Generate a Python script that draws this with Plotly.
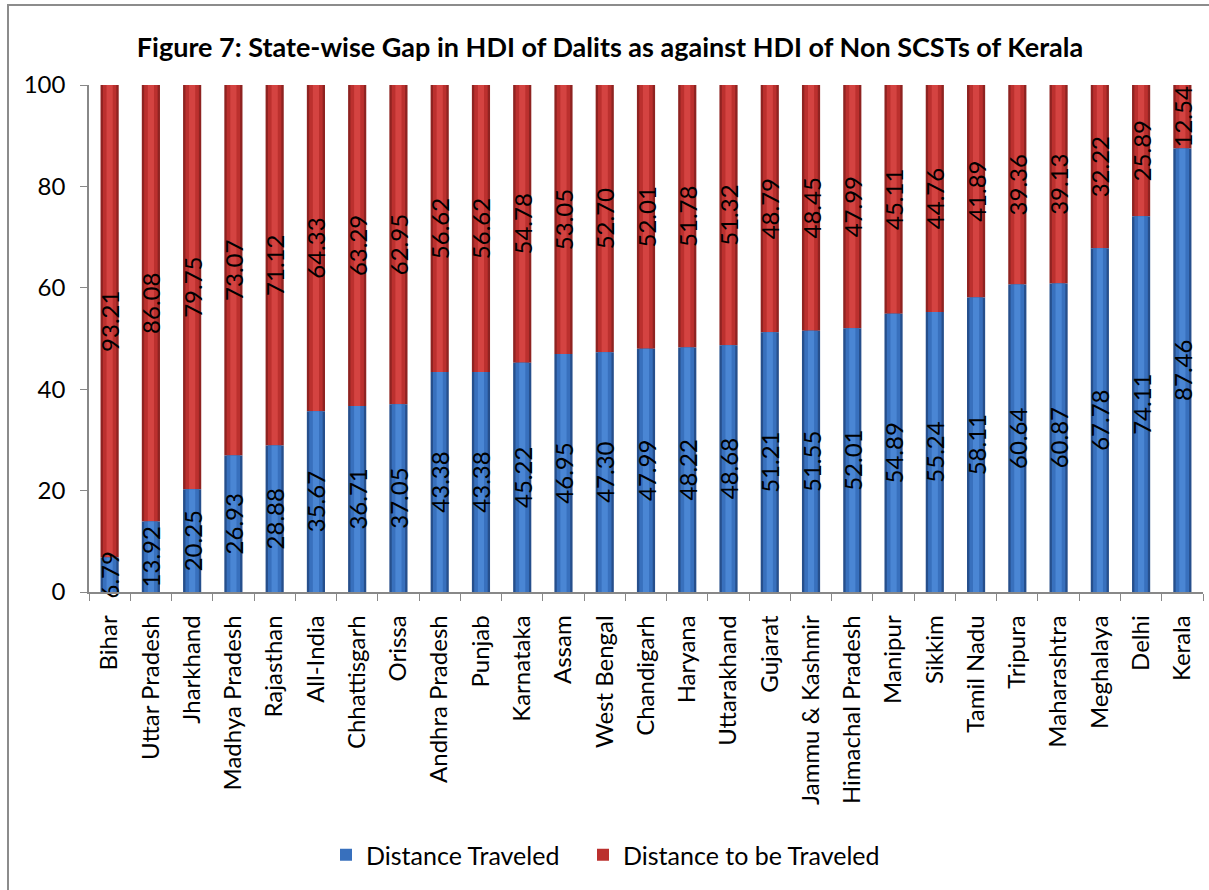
import plotly.graph_objects as go

states = ["Bihar", "Uttar Pradesh", "Jharkhand", "Madhya Pradesh", "Rajasthan",
          "All-India", "Chhattisgarh", "Orissa", "Andhra Pradesh", "Punjab",
          "Karnataka", "Assam", "West Bengal", "Chandigarh", "Haryana",
          "Uttarakhand", "Gujarat", "Jammu & Kashmir", "Himachal Pradesh",
          "Manipur", "Sikkim", "Tamil Nadu", "Tripura", "Maharashtra",
          "Meghalaya", "Delhi", "Kerala"]
traveled = [6.79, 13.92, 20.25, 26.93, 28.88, 35.67, 36.71, 37.05, 43.38, 43.38,
            45.22, 46.95, 47.30, 47.99, 48.22, 48.68, 51.21, 51.55, 52.01, 54.89,
            55.24, 58.11, 60.64, 60.87, 67.78, 74.11, 87.46]
to_travel = [93.21, 86.08, 79.75, 73.07, 71.12, 64.33, 63.29, 62.95, 56.62, 56.62,
             54.78, 53.05, 52.70, 52.01, 51.78, 51.32, 48.79, 48.45, 47.99, 45.11,
             44.76, 41.89, 39.36, 39.13, 32.22, 25.89, 12.54]

FONT = "Lato, Carlito, Calibri, sans-serif"
BAR_W = 0.44

# cylinder-like shading: dark outer bar, mid body, light centre stripe
blue_shades = ["#264f8c", "#3870bd", "#4a86d4"]
red_shades = ["#8f2321", "#bb302e", "#d44341"]
widths = [BAR_W, BAR_W * 0.74, BAR_W * 0.34]

fig = go.Figure()

def add_series(name, values, base, shades, legend_id):
    for i, (col, w) in enumerate(zip(shades, widths)):
        last = i == len(shades) - 1
        fig.add_trace(go.Bar(
            x=states, y=values, base=base, width=w,
            marker=dict(color=col, line=dict(width=0)),
            name=name, legend=legend_id, showlegend=(i == 1),
            text=[f"{v:.2f}" for v in values] if last else None,
            textposition="inside" if last else "none",
            insidetextanchor="middle", textangle=-90,
            constraintext="none", cliponaxis=False,
            textfont=dict(family=FONT, size=24, color="black"),
            hoverinfo="x+y",
        ))

# upper segment first so the lower segment's labels stay on top
add_series("Distance to be Traveled", to_travel, traveled, red_shades, "legend2")
add_series("Distance Traveled", traveled, [0] * len(states), blue_shades, "legend")

L, R, T, B = 89, 6, 85, 298
W, H = 1209, 890
pw, ph = W - L - R, H - T - B

legend_style = dict(
    orientation="h", xanchor="left", yanchor="middle",
    y=(H - B - 855) / ph, bgcolor="rgba(0,0,0,0)",
    font=dict(family=FONT, size=25, color="black"),
)

fig.update_layout(
    width=W, height=H,
    margin=dict(l=L, r=R, t=T, b=B),
    barmode="overlay",
    plot_bgcolor="white", paper_bgcolor="white",
    font=dict(family=FONT, color="black"),
    title=dict(
        text="<b>Figure 7: State-wise Gap in HDI of Dalits as against HDI of Non SCSTs of Kerala</b>",
        x=610 / W, xanchor="center", y=1 - 48 / H, yanchor="middle",
        xref="container", yref="container",
        font=dict(family=FONT, size=27, color="black"),
    ),
    legend=dict(x=(326 - L) / pw, **legend_style),
    legend2=dict(x=(583 - L) / pw, **legend_style),
    xaxis=dict(
        type="category", tickangle=-90, tickson="boundaries",
        ticks="outside", ticklen=7, tickcolor="#888888",
        showline=True, linecolor="#888888", linewidth=1.5,
        tickfont=dict(family=FONT, size=24, color="black"),
        ticklabelstandoff=12,
        showgrid=False,
    ),
    yaxis=dict(
        range=[0, 100], dtick=20, ticks="outside", ticklen=7,
        tickcolor="#888888", showline=True, linecolor="#888888", linewidth=1.5,
        tickfont=dict(family=FONT, size=24, color="black"),
        ticklabelstandoff=10,
        showgrid=False, zeroline=False,
    ),
    shapes=[dict(
        type="rect", xref="paper", yref="paper",
        x0=(8 - L) / pw, x1=(W + 10 - L) / pw,
        y0=(H - B - (H + 10)) / ph, y1=(H - B - 5) / ph,
        line=dict(color="#8c8c8c", width=2), fillcolor="rgba(0,0,0,0)",
        layer="below",
    )],
)

fig.write_html("out.html")
